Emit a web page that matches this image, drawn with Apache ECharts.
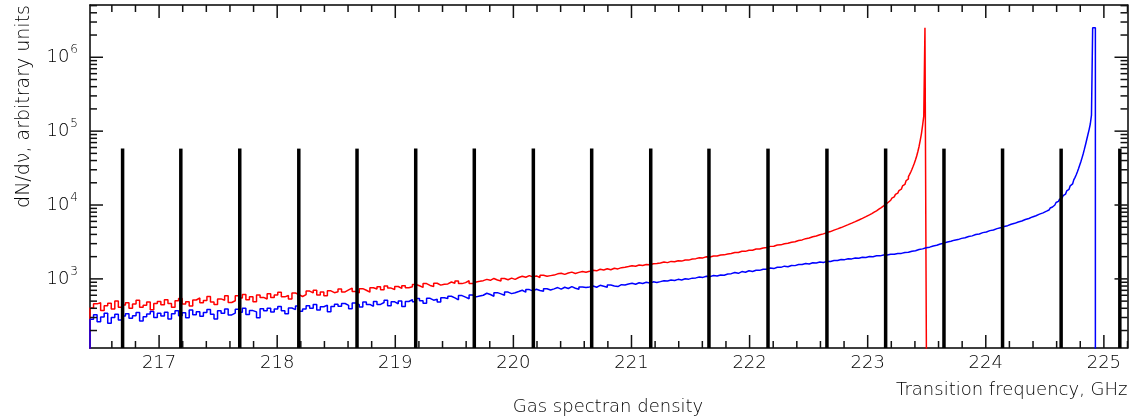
<!DOCTYPE html>
<html><head><meta charset="utf-8">
<script src="https://cdn.jsdelivr.net/npm/echarts@6/dist/echarts.min.js"></script>
<style>html,body{margin:0;padding:0;background:#fff}#c{width:1129px;height:418px}</style>
</head><body><div id="c"></div>
<script>
// ---- axis ranges / ticks ----
const xMin = 216.415, xMax = 225.2;
const yMin = 116, yMax = 5.1e6;
const xTickLabels = [217, 218, 219, 220, 221, 222, 223, 224, 225];
const yTickLabels = [1e3, 1e4, 1e5, 1e6];

// ---- histogram binning (GHz) ----
const binStart = 216.415, binWidth = 0.03;     // coarse bins
const fineWidth = 0.01;                         // fine bins near the edge

// red spectrum: coarse bins from 216.415 to 223.015
const redMain = [
  404,459,476,374,434,468,391,502,412,442,
  476,400,458,512,414,441,485,383,463,494,
  447,523,466,413,504,542,456,489,428,518,
  551,474,510,576,485,449,536,515,592,479,
  506,589,550,616,523,572,490,605,561,534,
  631,559,607,660,571,595,536,643,613,577,
  613,684,645,703,606,664,593,690,651,671,
  730,667,709,751,674,646,737,702,660,758,
  728,780,713,803,750,720,788,743,810,758,
  782,839,807,766,864,815,791,872,823,848,
  854,908,872,935,863,890,943,863,908,926,
  946,985,956,1014,965,936,1014,975,1024,985,
  1043,1086,1054,1107,1064,1097,1043,1118,1086,1107,
  1125,1170,1195,1150,1200,1235,1185,1225,1260,1230,
  1265,1305,1285,1350,1320,1375,1330,1395,1365,1420,
  1440,1470,1510,1480,1540,1520,1565,1550,1600,1610,
  1640,1690,1660,1725,1705,1765,1740,1800,1795,1855,
  1880,1935,1925,1990,1975,2040,2045,2100,2115,2170,
  2205,2280,2275,2365,2360,2445,2445,2535,2535,2625,
  2660,2755,2770,2875,2890,2995,3030,3135,3180,3305,
  3370,3505,3570,3715,3800,3955,4070,4235,4370,4575,
  4750,4950,5180,5420,5680,5960,6270,6600,6960,7350
];
// red spectrum: fine bins from 223.015, then the edge spike
const redTail = [
  7500,7650,7850,8000,8200,8350,8600,8800,9000,9250,
  9500,9750,10000,10300,10600,10900,11300,11600,12000,12400,
  12900,13400,13900,14500,15100,15700,16400,17200,18100,19000,
  20100,21300,22600,24200,26000,28000,30500,33400,36800,41000,
  46000,53000,62000,75000,92000,120000,160000
];
const redSpike = [223.485, 2500000];
const redEnd = 223.500;

// blue spectrum: coarse bins from 216.415 to 224.515
const blueMain = [
  284,326,262,305,342,250,299,332,278,314,
  337,293,318,350,270,308,334,363,299,343,
  314,353,287,337,370,317,347,297,380,327,
  359,311,352,386,332,287,369,342,390,325,
  344,387,354,401,329,372,358,297,394,369,
  399,357,391,422,369,338,403,384,429,365,
  392,432,400,449,379,420,441,359,424,453,
  425,464,438,394,473,447,416,486,451,425,
  494,451,479,512,432,489,461,503,423,494,
  525,490,541,505,469,546,515,530,485,556,
  543,582,554,521,594,566,538,605,571,588,
  601,639,614,583,651,626,601,663,632,651,
  674,702,660,716,688,723,695,681,737,709,
  733,763,726,770,741,785,748,726,778,763,
  779,803,771,819,795,771,827,803,787,835,
  828,855,872,846,888,866,899,880,912,896,
  918,946,934,967,950,986,968,1002,992,1024,
  1032,1062,1048,1088,1074,1112,1094,1132,1122,1162,
  1178,1222,1190,1256,1230,1290,1258,1310,1305,1352,
  1355,1405,1378,1440,1432,1488,1458,1520,1512,1566,
  1562,1612,1588,1652,1642,1696,1668,1728,1722,1772,
  1772,1826,1822,1874,1866,1914,1908,1960,1952,2004,
  2000,2054,2050,2104,2100,2156,2152,2212,2214,2276,
  2290,2372,2410,2502,2548,2644,2690,2794,2848,2964,
  3046,3164,3226,3346,3404,3536,3604,3748,3822,3980,
  4060,4230,4318,4500,4598,4790,4908,5120,5256,5490,
  5650,5900,6080,6360,6580,6900,7160,7520,7830,8250
];
// blue spectrum: fine bins from 224.515, then the edge step and spike
const blueTail = [
  8300,8550,8800,9100,9400,9700,10000,10400,10800,11200,
  11600,12000,12400,12900,13400,14000,14700,15500,16300,17200,
  18200,19300,20500,21900,23500,25500,28000,31000,34500,38500,
  43500,49500,57000,66000,77000,90000,105000,125000
];
const blueStep = [224.895, 165000];
const blueSpike = [224.905, 2500000];
const blueEnd = 224.928;

// black marker lines: positions (GHz) and heights
const markerFreqs = [216.691, 217.184, 217.683, 218.183, 218.676, 219.173, 219.669, 220.169, 220.663,
                     221.163, 221.656, 222.156, 222.655, 223.152, 223.646, 224.142, 224.638, 225.135];
const markerHeights = [58000,58000,58000,58000,58000,58000,58000,58000,58000,
                       58000,58000,58000,58000,58000,58000,58000,58000,58000];

// ---- derived ----
function histPoints(main, tail, extra, end) {
  const pts = [[binStart, 10]];
  main.forEach((v, i) => pts.push([binStart + i * binWidth, v]));
  const tailStart = binStart + main.length * binWidth;
  tail.forEach((v, i) => pts.push([tailStart + i * fineWidth, v]));
  extra.forEach(p => pts.push(p));
  pts.push([end, 10]);
  return pts;
}
const xMinor = [];
for (let k = 2166; k <= 2252; k += 2) if (k % 10 !== 0) xMinor.push(k / 10);
const yMinor = [];
for (let e = 2; e <= 6; e++) for (let m = 2; m <= 9; m++) { const v = m * Math.pow(10, e); if (v > yMin && v < yMax) yMinor.push(v); }

const FONT = 'DejaVu Sans';
const TXT = '#000';
const majorLen = 13, minorLen = 7, tickW = 1.5;

function frameAxisX(pos, withLabels) {
  return {
    type: 'value', position: pos, min: xMin, max: xMax,
    axisLine: { show: true, onZero: false, lineStyle: { color: '#000', width: 1.5 } },
    splitLine: { show: false }, axisTick: { show: false },
    axisLabel: withLabels ? { show: true, customValues: xTickLabels, margin: 6, fontFamily: FONT, fontWeight: 200, fontSize: 18, color: TXT } : { show: false }
  };
}
function frameAxisY(pos, withLabels) {
  return {
    type: 'log', logBase: 10, position: pos, min: yMin, max: yMax,
    axisLine: { show: true, onZero: false, lineStyle: { color: '#000', width: 1.5 } },
    splitLine: { show: false }, axisTick: { show: false },
    axisLabel: withLabels ? {
      show: true, customValues: yTickLabels, margin: 12,
      formatter: v => '{b|10}{s|' + Math.round(Math.log10(v)) + '}',
      rich: {
        b: { fontFamily: FONT, fontWeight: 200, fontSize: 18, color: TXT, lineHeight: 26 },
        s: { fontFamily: FONT, fontWeight: 200, fontSize: 12, color: TXT, verticalAlign: 'top', lineHeight: 26, padding: [0, 0, 0, 1] }
      }
    } : { show: false }
  };
}

const xAxes = [frameAxisX('bottom', true), frameAxisX('top', false)];
Object.assign(xAxes[0], {
  name: 'Transition frequency, GHz', nameLocation: 'end', nameGap: 0, nameMoveOverlap: false,
  nameTextStyle: { fontFamily: FONT, fontWeight: 200, fontSize: 18, color: TXT, align: 'right', verticalAlign: 'top', padding: [33, 0, 0, 0] }
});
const yAxes = [frameAxisY('left', true), frameAxisY('right', false)];
Object.assign(yAxes[0], {
  name: 'dN/d\u03BD, arbitrary units', nameLocation: 'end', nameGap: 0, nameRotate: 90, nameMoveOverlap: false,
  nameTextStyle: { fontFamily: FONT, fontWeight: 200, fontSize: 19, color: TXT, align: 'right', verticalAlign: 'bottom', padding: [0, 0, 56, 0] }
});

// One custom series draws the black marker lines and the frame tick marks (all four sides).
// kinds: 'm' marker line; 'b'/'t' x-ticks at bottom/top; 'l'/'r' y-ticks at left/right
const markItems = [], markKinds = [];
markerFreqs.forEach((f, i) => { markItems.push([f, markerHeights[i]]); markKinds.push(['m', 0]); });
['b', 't'].forEach(side => {
  xTickLabels.forEach(v => { markItems.push([v, 1000]); markKinds.push([side, majorLen]); });
  xMinor.forEach(v => { markItems.push([v, 1000]); markKinds.push([side, minorLen]); });
});
['l', 'r'].forEach(side => {
  yTickLabels.forEach(v => { markItems.push([220, v]); markKinds.push([side, majorLen]); });
  yMinor.forEach(v => { markItems.push([220, v]); markKinds.push([side, minorLen]); });
});

const series = [
  { type: 'line', name: 'red', xAxisIndex: 0, yAxisIndex: 0, step: 'end', showSymbol: false, symbol: 'none', clip: true,
    lineStyle: { color: '#ff0000', width: 1.5 }, data: histPoints(redMain, redTail, [redSpike], redEnd), z: 3 },
  { type: 'line', name: 'blue', xAxisIndex: 0, yAxisIndex: 0, step: 'end', showSymbol: false, symbol: 'none', clip: true,
    lineStyle: { color: '#0000ff', width: 1.5 }, data: histPoints(blueMain, blueTail, [blueStep, blueSpike], blueEnd), z: 4 },
  { type: 'custom', name: 'markers', xAxisIndex: 0, yAxisIndex: 0, clip: true, z: 5, silent: true,
    data: markItems,
    encode: { x: 0, y: 1 },
    renderItem: (params, api) => {
      const kind = markKinds[params.dataIndex][0], len = markKinds[params.dataIndex][1];
      if (kind === 'm') {
        const top = api.coord([api.value(0), api.value(1)]);
        const bot = api.coord([api.value(0), yMin]);
        return { type: 'rect', shape: { x: top[0] - 1.75, y: top[1], width: 3.5, height: bot[1] - top[1] }, style: { fill: '#000' } };
      }
      if (kind === 'b' || kind === 't') {
        const p = api.coord([api.value(0), kind === 'b' ? yMin : yMax]);
        return { type: 'rect', shape: { x: p[0] - tickW / 2, y: kind === 'b' ? p[1] - len : p[1], width: tickW, height: len }, style: { fill: '#111' } };
      }
      const p = api.coord([kind === 'l' ? xMin : xMax, api.value(1)]);
      return { type: 'rect', shape: { x: kind === 'l' ? p[0] : p[0] - len, y: p[1] - tickW / 2, width: len, height: tickW }, style: { fill: '#111' } };
    }
  }
];

const chart = echarts.init(document.getElementById('c'), null, { renderer: 'canvas' });
chart.setOption({
  animation: false,
  backgroundColor: '#fff',
  title: {
    text: 'Gas spectran density', left: 608, top: 398, textAlign: 'center', padding: 0,
    textStyle: { fontFamily: FONT, fontWeight: 200, fontSize: 18, color: TXT }
  },
  grid: { left: 90, right: 1.5, top: 5, bottom: 70, containLabel: false, outerBoundsMode: 'none' },
  xAxis: xAxes,
  yAxis: yAxes,
  series: series
});
</script>
</body></html>
